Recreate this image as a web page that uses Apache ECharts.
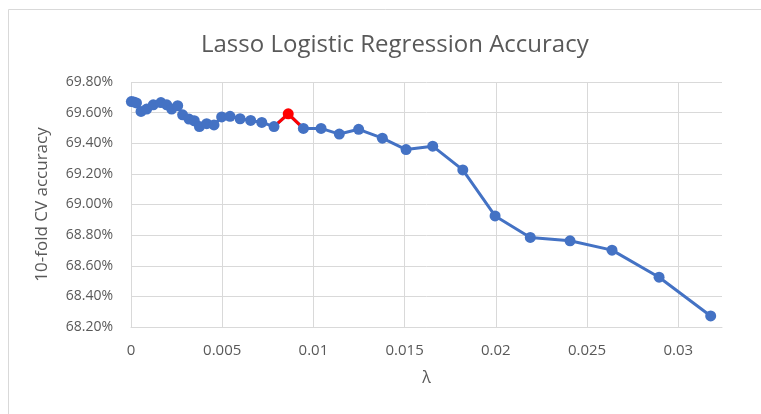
<!DOCTYPE html>
<html>
<head>
<meta charset="utf-8">
<script src="https://cdn.jsdelivr.net/npm/echarts@6/dist/echarts.min.js"></script>
<style>
html,body{margin:0;padding:0;background:#fff;}
#chart{width:761px;height:414px;}
</style>
</head>
<body>
<div id="chart"></div>
<script>
// Data
const lambdas = [0.00002, 0.00015, 0.0003, 0.00055, 0.00086, 0.00122, 0.00164, 0.00196, 0.00223, 0.00256,
  0.00283, 0.00318, 0.00347, 0.00375, 0.00415, 0.00455, 0.00497, 0.00543, 0.00598, 0.00656,
  0.00717, 0.00784, 0.00862, 0.00945, 0.01042, 0.01142, 0.01248, 0.01378, 0.01508, 0.01654,
  0.01819, 0.01996, 0.02189, 0.02407, 0.02637, 0.02895, 0.03178];
const accuracy = [69.672, 69.670, 69.663, 69.608, 69.623, 69.651, 69.666, 69.651, 69.623, 69.645,
  69.586, 69.558, 69.547, 69.509, 69.528, 69.520, 69.572, 69.576, 69.560, 69.549,
  69.536, 69.509, 69.592, 69.497, 69.497, 69.460, 69.491, 69.433, 69.359, 69.381,
  69.226, 68.925, 68.785, 68.763, 68.702, 68.525, 68.272];
const bestIndex = 22; // highlighted (red) point
const titleText = 'Lasso Logistic Regression Accuracy';
const xName = 'λ';
const yName = '10-fold CV accuracy';
const xMin = 0, xMax = 0.0324, xStep = 0.005;
const yMin = 68.2, yMax = 69.8, yStep = 0.2;

const allPts = lambdas.map((l, i) => [l, accuracy[i]]);
const bluePts = allPts.filter((p, i) => i !== bestIndex);
const redSeg = allPts.slice(bestIndex - 1, bestIndex + 2);
const redPt = [allPts[bestIndex]];

const BLUE = '#4472C4', RED = '#FF0000', GRID = '#d9d9d9', TXT = '#595959';
const FONT = '"Open Sans", sans-serif';

const chart = echarts.init(document.getElementById('chart'), null, {renderer: 'canvas'});
chart.setOption({
  animation: false,
  backgroundColor: '#fff',
  graphic: [{
    type: 'rect', left: 6, top: 7, shape: {width: 800, height: 500},
    style: {fill: 'none', stroke: GRID, lineWidth: 1}, silent: true
  }],
  title: {
    text: titleText, left: 196, top: 28,
    textStyle: {fontFamily: FONT, fontSize: 24, fontWeight: 'normal', color: TXT}
  },
  grid: {left: 131, right: 39, top: 82, bottom: 87, containLabel: false},
  xAxis: {
    type: 'value', min: xMin, max: xMax, interval: xStep,
    name: xName, nameLocation: 'middle', nameGap: 43,
    nameTextStyle: {fontFamily: FONT, fontSize: 16, color: TXT},
    axisLine: {show: true, lineStyle: {color: GRID, width: 1}},
    axisTick: {show: false},
    axisLabel: {fontFamily: FONT, fontSize: 15, color: TXT, margin: 16, showMaxLabel: false,
      formatter: v => String(parseFloat(v.toFixed(4)))},
    splitLine: {show: true, showMaxLine: false, lineStyle: {color: GRID, width: 1}}
  },
  yAxis: {
    type: 'value', min: yMin, max: yMax, interval: yStep,
    name: yName, nameLocation: 'middle', nameGap: 80,
    nameTextStyle: {fontFamily: FONT, fontSize: 17, color: TXT},
    axisLine: {show: false}, axisTick: {show: false},
    axisLabel: {fontFamily: FONT, fontSize: 14, color: TXT, margin: 18,
      formatter: v => v.toFixed(2) + '%'},
    splitLine: {show: true, lineStyle: {color: GRID, width: 1}}
  },
  series: [
    {type: 'line', data: allPts, showSymbol: false, symbol: 'none',
      lineStyle: {color: BLUE, width: 3}, z: 2},
    {type: 'line', data: redSeg, showSymbol: false, symbol: 'none',
      lineStyle: {color: RED, width: 3}, z: 3},
    {type: 'scatter', data: bluePts, symbol: 'circle', symbolSize: 11,
      itemStyle: {color: BLUE, opacity: 1}, z: 4},
    {type: 'scatter', data: redPt, symbol: 'circle', symbolSize: 11,
      itemStyle: {color: RED, opacity: 1}, z: 5}
  ]
});
</script>
</body>
</html>
